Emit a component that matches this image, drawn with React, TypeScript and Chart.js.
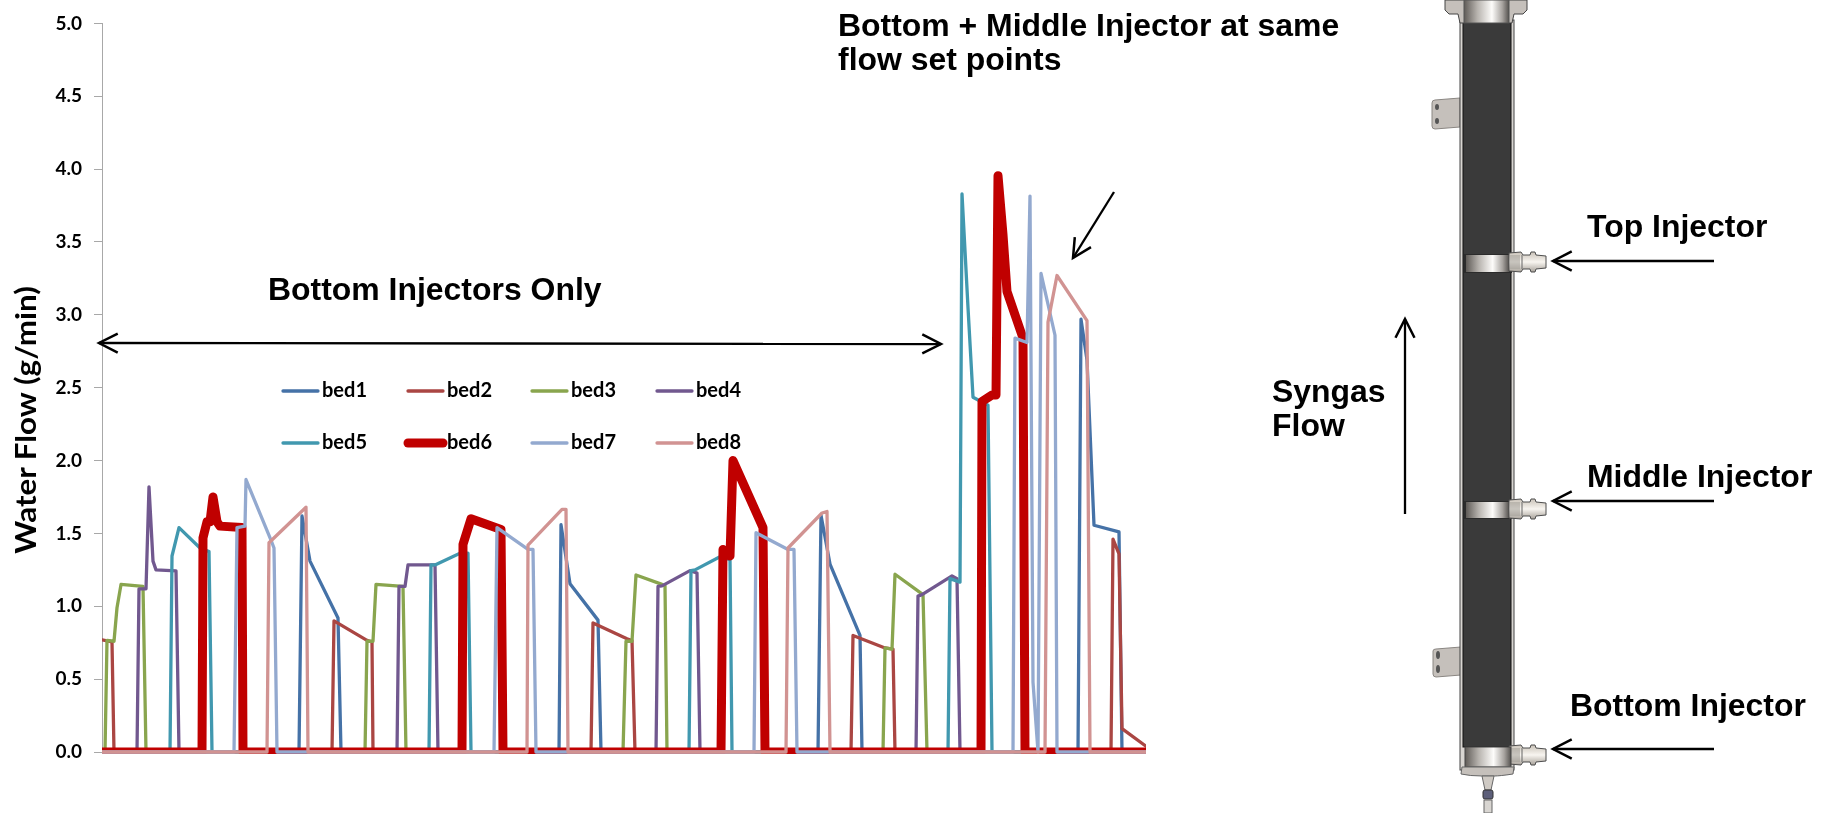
import React, { useEffect, useRef } from "react";
import { Chart, registerables } from "chart.js";

Chart.register(...registerables);

const bedNames = ["bed1", "bed2", "bed3", "bed4", "bed5", "bed6", "bed7", "bed8"];
const bedColors = ["#4572A7", "#AA4643", "#89A54E", "#71588F", "#4198AF", "#C00000", "#93A9CF", "#D19392"];
const bedWidths = [3.3, 3.3, 3.3, 3.3, 3.3, 9, 3.3, 3.3];

const yTicks = [0, 0.5, 1, 1.5, 2, 2.5, 3, 3.5, 4, 4.5, 5];

const bed1T = [0, 197, 200, 208, 236, 239, 457, 459, 468, 496, 499, 716, 719, 728, 758, 760, 976, 979, 985, 992, 1017, 1020, 1044];
const bed1V = [0, 0, 1.62, 1.31, 0.92, 0, 0, 1.56, 1.155, 0.905, 0, 0, 1.625, 1.29, 0.8, 0, 0, 2.97, 2.69, 1.556, 1.51, 0, 0];
const bed2T = [0, 10, 12, 230, 232, 265, 270, 271, 489, 491, 525, 530, 533, 749, 751, 783, 791, 793, 1009, 1011, 1017, 1020, 1044];
const bed2V = [0.77, 0.755, 0, 0, 0.9, 0.766, 0.755, 0, 0, 0.886, 0.777, 0.765, 0, 0, 0.8, 0.714, 0.706, 0, 0, 1.46, 1.36, 0.16, 0.04];
const bed3T = [0, 3, 5, 12, 15, 19, 41, 44, 263, 265, 271, 274, 301, 304, 521, 524, 530, 534, 560, 563, 565, 781, 783, 790, 793, 821, 825, 1044];
const bed3V = [0, 0, 0.766, 0.76, 0.99, 1.15, 1.136, 0, 0, 0.76, 0.76, 1.15, 1.136, 0, 0, 0.76, 0.76, 1.215, 1.15, 1.14, 0, 0, 0.714, 0.706, 1.22, 1.08, 0, 0];
const bed4T = [0, 35, 37, 44, 47, 51, 54, 74, 77, 295, 297, 303, 306, 333, 336, 554, 556, 560, 588, 595, 598, 814, 816, 820, 850, 855, 858, 1044];
const bed4V = [0, 0, 1.12, 1.12, 1.82, 1.31, 1.25, 1.243, 0, 0, 1.136, 1.136, 1.284, 1.284, 0, 0, 1.136, 1.14, 1.245, 1.228, 0, 0, 1.07, 1.08, 1.208, 1.19, 0, 0];
const bed5T = [0, 68, 70, 77, 98, 107, 110, 327, 329, 333, 358, 366, 369, 587, 589, 593, 618, 628, 630, 846, 848, 858, 860, 866, 871, 886, 890, 1044];
const bed5V = [0, 0, 1.345, 1.54, 1.4, 1.375, 0, 0, 1.284, 1.284, 1.364, 1.364, 0, 0, 1.245, 1.25, 1.34, 1.32, 0, 0, 1.19, 1.166, 3.83, 3.05, 2.435, 2.38, 0, 0];
const bed6T = [0, 100, 101, 105, 108, 111, 115, 118, 140, 141, 360, 361, 369, 399, 401, 619, 621, 628, 631, 661, 663, 879, 880, 890, 894, 896, 901, 905, 921, 923, 1044];
const bed6V = [0, 0, 1.47, 1.58, 1.58, 1.75, 1.58, 1.55, 1.54, 0, 0, 1.425, 1.6, 1.527, 0, 0, 1.39, 1.345, 2.0, 1.54, 0, 0, 2.405, 2.45, 2.45, 3.955, 3.55, 3.16, 2.84, 0, 0];
const bed7T = [0, 132, 135, 143, 144, 170, 172, 175, 392, 395, 426, 431, 434, 652, 654, 686, 692, 695, 911, 913, 925, 928, 931, 936, 939, 953, 955, 1044];
const bed7V = [0, 0, 1.54, 1.55, 1.87, 1.436, 1.4, 0, 0, 1.54, 1.39, 1.39, 0, 0, 1.505, 1.39, 1.39, 0, 0, 2.84, 2.81, 3.815, 0.48, 0, 3.285, 2.86, 0, 0];
const bed8T = [0, 165, 167, 204, 206, 425, 426, 460, 464, 466, 684, 686, 720, 725, 728, 943, 946, 955, 985, 988, 1044];
const bed8V = [0, 0, 1.436, 1.68, 0, 0, 1.42, 1.665, 1.665, 0, 0, 1.4, 1.64, 1.65, 0, 0, 2.95, 3.27, 2.96, 0, 0];

const bedTimes = [bed1T, bed2T, bed3T, bed4T, bed5T, bed6T, bed7T, bed8T];
const bedValues = [bed1V, bed2V, bed3V, bed4V, bed5V, bed6V, bed7V, bed8V];

const WIDTH = 1827;
const HEIGHT = 813;

const legendPlugin = {
  id: "bedLegend",
  afterDraw(chart: any) {
    const ctx = chart.ctx;
    const colX = [283, 408, 532, 657];
    const rowY = [391, 443];
    ctx.save();
    ctx.textBaseline = "middle";
    ctx.textAlign = "left";
    ctx.font = "bold 20px Lato";
    chart.data.datasets.forEach((d: any, i: number) => {
      const x = colX[i % 4];
      const y = rowY[Math.floor(i / 4)];
      ctx.beginPath();
      ctx.lineCap = "round";
      ctx.strokeStyle = d.borderColor;
      ctx.lineWidth = d.borderWidth;
      ctx.moveTo(x, y);
      ctx.lineTo(x + 35, y);
      ctx.stroke();
      ctx.fillStyle = "#000";
      ctx.fillText(d.label, x + 39, y);
    });
    ctx.restore();
  },
};

const Label = ({ x, y, children, size = 31 }: any) => (
  <div
    style={{
      position: "absolute",
      left: x,
      top: y,
      fontFamily: "'Liberation Sans', Arial, sans-serif",
      fontWeight: 700,
      fontSize: size,
      lineHeight: "34px",
      color: "#000",
      whiteSpace: "pre",
      transform: "scaleX(1.03)",
      transformOrigin: "left center",
    }}
  >
    {children}
  </div>
);

const Arrow = ({ x1, y1, x2, y2, both = false }: any) => {
  const head = (hx: number, hy: number, fx: number, fy: number) => {
    const a = Math.atan2(fy - hy, fx - hx);
    const l = 21;
    const s = 0.47;
    const p1 = `${hx + l * Math.cos(a + s)},${hy + l * Math.sin(a + s)}`;
    const p2 = `${hx + l * Math.cos(a - s)},${hy + l * Math.sin(a - s)}`;
    return <polyline points={`${p1} ${hx},${hy} ${p2}`} fill="none" stroke="#000" strokeWidth={2.5} />;
  };
  return (
    <g>
      <line x1={x1} y1={y1} x2={x2} y2={y2} stroke="#000" strokeWidth={2.3} />
      {head(x2, y2, x1, y1)}
      {both ? head(x1, y1, x2, y2) : null}
    </g>
  );
};

const Collar = ({ y, h }: any) => (
  <g>
    <rect x={1464} y={y - 1} width={48} height={h + 2} fill="#2b2b2b" />
    <rect x={1466} y={y} width={43} height={h} fill="url(#metal)" />
  </g>
);

const Nozzle = ({ y }: any) => (
  <g>
    <path d={`M1509 ${y - 1} L1521 ${y - 2} L1523 ${y + 1} L1530 ${y + 1} L1531 ${y - 2} L1535 ${y - 2} L1536 ${y + 1} L1546 ${y + 2} L1546 ${y + 14} L1536 ${y + 15} L1535 ${y + 18} L1531 ${y + 18} L1530 ${y + 15} L1523 ${y + 15} L1521 ${y + 18} L1509 ${y + 17} Z`} fill="url(#nozzle)" stroke="#4d4d4d" strokeWidth={1} />
    <rect x={1510} y={y + 1} width={10} height={14} fill="#a09c96" opacity={0.55} />
    <line x1={1522} y1={y + 1} x2={1522} y2={y + 15} stroke="#666" strokeWidth={1} />
  </g>
);

const Reactor = () => (
  <g>
    <defs>
      <linearGradient id="metal" x1="0" x2="1" y1="0" y2="0">
        <stop offset="0" stopColor="#5f5b57" />
        <stop offset="0.3" stopColor="#b8b4af" />
        <stop offset="0.62" stopColor="#fdfcfa" />
        <stop offset="0.85" stopColor="#a8a4a0" />
        <stop offset="1" stopColor="#55524f" />
      </linearGradient>
      <linearGradient id="nozzle" x1="0" x2="0" y1="0" y2="1">
        <stop offset="0" stopColor="#c9c2b8" />
        <stop offset="0.5" stopColor="#f8f5f0" />
        <stop offset="1" stopColor="#a8a29a" />
      </linearGradient>
    </defs>
    <path d="M1432 103 Q1432 100 1435 100 L1460 98 L1460 127 L1435 129 Q1432 129 1432 126 Z" fill="#c5c0bb" stroke="#8a8682" />
    <ellipse cx="1437" cy="107" rx="2" ry="3" fill="#555" />
    <ellipse cx="1437" cy="121" rx="2" ry="3" fill="#555" />
    <path d="M1433 651 Q1433 649 1436 649 L1461 647 L1461 675 L1436 677 Q1433 677 1433 674 Z" fill="#c5c0bb" stroke="#8a8682" />
    <ellipse cx="1438" cy="655" rx="2" ry="4" fill="#555" />
    <ellipse cx="1438" cy="669" rx="2" ry="4" fill="#555" />
    <rect x={1460} y={20} width={54} height={750} fill="#d8d5d1" stroke="#444" strokeWidth={1} />
    <rect x={1463} y={23} width={48} height={724} fill="#3a3a3a" stroke="#111" strokeWidth={1} />
    <path d="M1445 0 L1527 0 L1527 10 L1523 14 L1514 14 L1512 23 L1460 23 L1458 14 L1449 14 L1445 10 Z" fill="#c5c0bb" stroke="#444" strokeWidth={1} />
    <rect x={1464} y={0} width={45} height={23} fill="url(#metal)" stroke="#555" strokeWidth={1} />
    <Collar y={255} h={17} />
    <Collar y={502} h={16} />
    <Nozzle y={254} />
    <Nozzle y={501} />
    <Nozzle y={747} />
    <rect x={1465} y={747} width={46} height={20} fill="url(#metal)" stroke="#444" strokeWidth={1} />
    <path d="M1462 767 L1514 767 L1513 774 Q1500 776 1494 776 L1482 776 Q1470 776 1461 774 Z" fill="#c5c0bb" stroke="#666" strokeWidth={1} />
    <path d="M1482 776 L1494 776 L1491 790 L1485 790 Z" fill="#cfcac4" stroke="#666" strokeWidth={1} />
    <rect x={1483} y={790} width={10} height={9} rx={2} fill="#5d5f7a" stroke="#333" strokeWidth={1} />
    <rect x={1484} y={800} width={8} height={13} fill="#d8d5d1" stroke="#666" strokeWidth={1} />
  </g>
);

export default function App() {
  const ref = useRef<HTMLCanvasElement | null>(null);

  useEffect(() => {
    if (!ref.current) return;
    const datasets = bedNames.map((name, i) => ({
      label: name,
      data: bedTimes[i].map((t, k) => ({ x: t, y: bedValues[i][k] })),
      borderColor: bedColors[i],
      backgroundColor: bedColors[i],
      borderWidth: bedWidths[i],
      borderJoinStyle: "round" as const,
      borderCapStyle: "round" as const,
      pointRadius: 0,
      tension: 0,
      order: bedNames.length - i,
      clip: { left: 0, right: 0, top: 10, bottom: 2 },
    }));
    const chart = new Chart(ref.current, {
      type: "line",
      data: { datasets },
      plugins: [legendPlugin],
      options: {
        animation: false,
        responsive: false,
        layout: { padding: { left: 0, right: WIDTH - 1146, top: 19.5, bottom: 0 } },
        plugins: { legend: { display: false }, tooltip: { enabled: false } },
        scales: {
          x: {
            type: "linear",
            min: 0,
            max: 1044,
            grid: { display: false },
            border: { display: false },
            ticks: { display: false },
            afterFit(s: any) {
              s.height = HEIGHT - 752;
            },
          },
          y: {
            min: 0,
            max: 5,
            afterBuildTicks(s: any) {
              s.ticks = yTicks.map((v) => ({ value: v }));
            },
            afterFit(s: any) {
              s.width = 102;
            },
            border: { color: "#A8A8A8", width: 1 },
            grid: { drawOnChartArea: false, tickLength: 8, color: "#A8A8A8" },
            ticks: {
              padding: 12,
              color: "#000",
              font: { family: "Lato", weight: "bold", size: 19 },
              callback: (v: any) => Number(v).toFixed(1),
            },
          },
        },
      },
    });
    return () => chart.destroy();
  }, []);

  return (
    <div style={{ position: "fixed", left: 0, top: 0, width: WIDTH, height: HEIGHT, overflow: "hidden", background: "#fff" }}>
      <canvas ref={ref} width={WIDTH} height={HEIGHT} style={{ position: "absolute", left: 0, top: 0, width: WIDTH, height: HEIGHT }} />
      <svg width={WIDTH} height={HEIGHT} style={{ position: "absolute", left: 0, top: 0 }}>
        <Reactor />
        <Arrow x1={99} y1={343} x2={941} y2={344} both />
        <Arrow x1={1114} y1={192} x2={1073} y2={258} />
        <Arrow x1={1405} y1={514} x2={1405} y2={319} />
        <Arrow x1={1714} y1={261} x2={1553} y2={261} />
        <Arrow x1={1714} y1={501} x2={1553} y2={501} />
        <Arrow x1={1714} y1={749} x2={1553} y2={749} />
      </svg>
      <div
        style={{
          position: "absolute",
          left: 25,
          top: 419.5,
          transform: "translate(-50%, -50%) rotate(-90deg) scaleX(1.1)",
          fontFamily: "Lato, sans-serif",
          fontWeight: 700,
          fontSize: 28.5,
          whiteSpace: "pre",
          color: "#000",
        }}
      >
        Water Flow (g/min)
      </div>
      <Label x={838} y={9}>{"Bottom + Middle Injector at same\nflow set points"}</Label>
      <Label x={268} y={273}>Bottom Injectors Only</Label>
      <Label x={1272} y={375}>{"Syngas\nFlow"}</Label>
      <Label x={1587} y={210}>Top Injector</Label>
      <Label x={1587} y={460}>Middle Injector</Label>
      <Label x={1570} y={689}>Bottom Injector</Label>
    </div>
  );
}
